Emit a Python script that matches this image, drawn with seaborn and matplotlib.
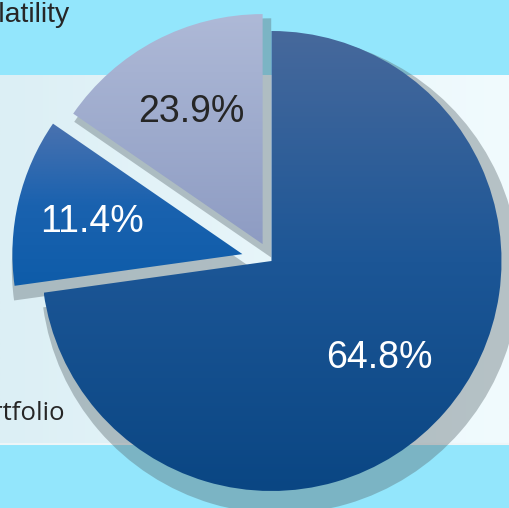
import numpy as np
import matplotlib
matplotlib.use("Agg")
import matplotlib.pyplot as plt
from matplotlib.path import Path
from matplotlib.patches import PathPatch
from matplotlib.colors import LinearSegmentedColormap
import seaborn as sns

# ---- data (angular shares as drawn, printed labels, explode) ----
slice_shares = [15.4, 11.8, 72.8]          # drawn angular share of each wedge (%)
slice_labels = ["23.9%", "11.4%", "64.8%"]  # printed percentages
slice_explode = [0.083, 0.13, 0.0]
side_labels = ["Volatility", "Portfolio"]

# ---- style ----
sns.set_theme(style="white")
plt.rcParams['font.family'] = ['Liberation Sans', 'DejaVu Sans']

slice_gradients = [
    ["#AEB9D7", "#9EABCD", "#8E9CC3"],
    ["#4A72AF", "#1A62AF", "#0E5CA9"],
    ["#47699C", "#1C5696", "#0A4683"],
]
label_colors = ["#262626", "white", "white"]
label_dist = [0.665, 0.67, 0.62]

W, H = 509, 508
CX, CY = 271.5, 261.0
R = 230.0

fig = plt.figure(figsize=(W / 100, H / 100), dpi=100)
fig.patch.set_facecolor("#93E6FC")

# background band (pixel coordinates, y down)
bg = fig.add_axes([0, 0, 1, 1], zorder=0)
bg.patch.set_alpha(0)
band_cmap = LinearSegmentedColormap.from_list("band", ["#DCEFF5", "#F1FBFE"])
bg.imshow(np.linspace(0, 1, 256).reshape(1, -1), extent=[0, W, 443, 75],
          cmap=band_cmap, aspect='auto', zorder=1)
bg.plot([0, W], [443.5, 443.5], color="#EEF5F7", lw=1.5, zorder=2)
bg.set_xlim(0, W)
bg.set_ylim(H, 0)
bg.axis('off')

bg.text(70, 21.5, side_labels[0], ha='right', va='baseline', fontsize=20.5,
        color="#262626", family=['Liberation Sans', 'DejaVu Sans'])
bg.text(65, 420, side_labels[1], ha='right', va='baseline', fontsize=18.5,
        color="#262626", family=['Open Sans', 'DejaVu Sans'])

# pie axes
ax = fig.add_axes([0, 0, 1, 1], zorder=1)
ax.patch.set_alpha(0)

# shadow
sw, _ = ax.pie(slice_shares, explode=slice_explode, startangle=90,
               counterclock=True, radius=1.04,
               center=(8.6 / R, -13.4 / R), frame=True)
paths = [w.get_path() for w in sw]
for w in sw:
    w.remove()
shadow = PathPatch(Path.make_compound_path(*paths), facecolor="#56646A",
                   alpha=0.38, lw=0, zorder=0.5)
ax.add_patch(shadow)

wedges, _ = ax.pie(slice_shares, explode=slice_explode, startangle=90,
                   counterclock=True, radius=1.0, center=(0, 0), frame=True,
                   wedgeprops=dict(linewidth=0))

for w, stops in zip(wedges, slice_gradients):
    verts = w.get_path().vertices
    x0, x1 = verts[:, 0].min(), verts[:, 0].max()
    y0, y1 = verts[:, 1].min(), verts[:, 1].max()
    cmap = LinearSegmentedColormap.from_list("g", stops)
    im = ax.imshow(np.linspace(0, 1, 256).reshape(-1, 1),
                   extent=[x0, x1, y0, y1], origin='upper', cmap=cmap,
                   aspect='auto', zorder=2, interpolation='bilinear')
    im.set_clip_path(w)
    w.set_facecolor('none')

for w, lab, col, d in zip(wedges, slice_labels, label_colors, label_dist):
    th = np.deg2rad((w.theta1 + w.theta2) / 2)
    cx, cy = w.center
    x = cx + d * np.cos(th)
    y = cy + d * np.sin(th) - 13.5 / R
    ax.text(x, y, lab, ha='center', va='baseline', fontsize=27, color=col,
            zorder=3)

ax.set_xlim(-CX / R, (W - CX) / R)
ax.set_ylim(-(H - CY) / R, CY / R)
ax.set_aspect('auto')
ax.axis('off')

fig.savefig("out.png", dpi=100, facecolor=fig.get_facecolor())
